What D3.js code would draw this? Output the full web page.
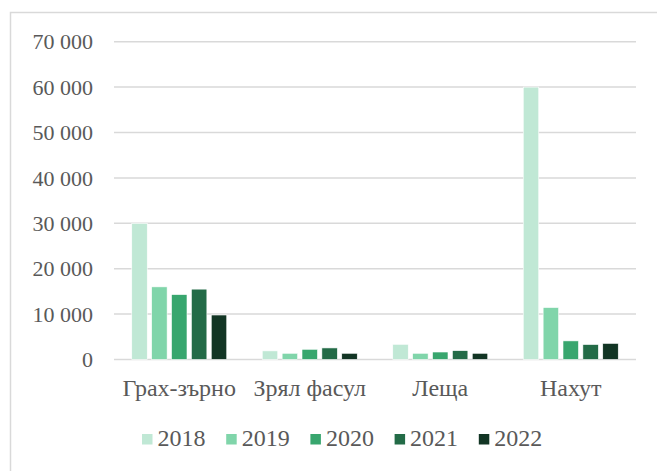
<!DOCTYPE html>
<html>
<head>
<meta charset="utf-8">
<script src="https://cdn.jsdelivr.net/npm/d3@7"></script>
<style>
  body { margin: 0; background: #fff; }
  svg text { font-family: "Liberation Serif", "Times New Roman", serif; fill: #595959; }
</style>
</head>
<body>
<div id="chart"></div>
<script>
// data
const categories = ["Грах-зърно", "Зрял фасул", "Леща", "Нахут"];
const years = ["2018", "2019", "2020", "2021", "2022"];
const v2018 = [30000, 1900, 3350, 60000];
const v2019 = [16000, 1370, 1370, 11450];
const v2020 = [14300, 2250, 1650, 4100];
const v2021 = [15500, 2550, 1950, 3300];
const v2022 = [9800, 1370, 1370, 3550];
const yTicks = [0, 10000, 20000, 30000, 40000, 50000, 60000, 70000];
const colors = ["#c0e8d5", "#80d5aa", "#38a66e", "#236b47", "#123524"];

const series = [v2018, v2019, v2020, v2021, v2022];

const W = 657, H = 471;
const margin = {top: 41.7, left: 114, right: 21, bottom: 111.5};

const svg = d3.select("#chart").append("svg")
  .attr("width", W).attr("height", H);

// outer frame (clipped right/bottom like the picture)
svg.append("rect")
  .attr("x", 10.5).attr("y", 12.5)
  .attr("width", W + 20).attr("height", H + 20)
  .attr("fill", "none").attr("stroke", "#d9d9d9").attr("stroke-width", 1.5);

const x = d3.scaleBand().domain(categories).range([margin.left, W - margin.right]);
const x1 = d3.scaleBand().domain(years).range([0, 95]).paddingInner(0.22);
const y = d3.scaleLinear().domain([0, 70000]).range([H - margin.bottom, margin.top]);

const fmt = d => d3.format(",")(d).replace(/,/g, " ");

// gridlines
svg.append("g").selectAll("line").data(yTicks).join("line")
  .attr("x1", margin.left).attr("x2", W - margin.right)
  .attr("y1", d => y(d)).attr("y2", d => y(d))
  .attr("stroke", "#d9d9d9").attr("stroke-width", 1.5);

// y labels
svg.append("g").selectAll("text").data(yTicks).join("text")
  .attr("x", 93).attr("y", d => y(d))
  .attr("dy", "0.35em")
  .attr("text-anchor", "end")
  .attr("font-size", 22)
  .text(fmt);

// bars
const groups = svg.append("g").selectAll("g").data(categories).join("g")
  .attr("transform", c => `translate(${x(c) + x.bandwidth() / 2 - 47.5},0)`);

groups.selectAll("rect")
  .data((c, ci) => years.map((yr, si) => ({yr, si, v: series[si][ci]})))
  .join("rect")
  .attr("x", d => x1(d.yr))
  .attr("width", x1.bandwidth())
  .attr("y", d => y(d.v))
  .attr("height", d => y(0) - y(d.v))
  .attr("fill", d => colors[d.si])
  .attr("stroke", "#ffffff").attr("stroke-width", 0.6);

// category labels
svg.append("g").selectAll("text").data(categories).join("text")
  .attr("x", c => x(c) + x.bandwidth() / 2)
  .attr("y", 396)
  .attr("text-anchor", "middle")
  .attr("font-size", 24)
  .text(c => c);

// legend
const legend = svg.append("g").selectAll("g").data(years).join("g")
  .attr("transform", (d, i) => `translate(${142 + i * 84.2},0)`);
legend.append("rect")
  .attr("x", 0).attr("y", 434).attr("width", 10.5).attr("height", 10.5)
  .attr("fill", (d, i) => colors[i]);
legend.append("text")
  .attr("x", 15.5).attr("y", 446)
  .attr("font-size", 24)
  .text(d => d);
</script>
</body>
</html>
